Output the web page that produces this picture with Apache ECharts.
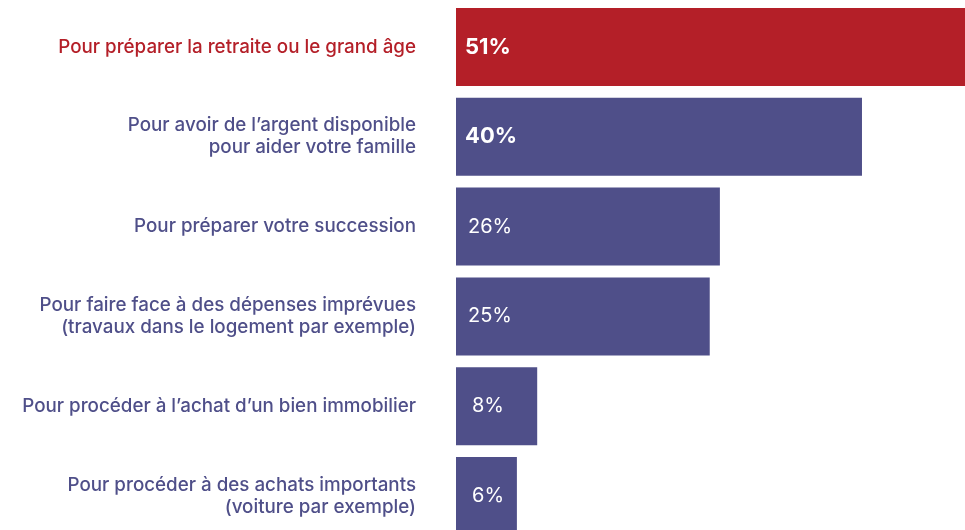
<!DOCTYPE html>
<html>
<head>
<meta charset="utf-8">
<script src="https://cdn.jsdelivr.net/npm/echarts@6/dist/echarts.min.js"></script>
<style>
  html, body { margin: 0; padding: 0; background: #fff; }
  #chart { width: 965px; height: 530px; }
</style>
</head>
<body>
<div id="chart"></div>
<script>
// categories, top to bottom
const categories = [
  "Pour préparer la retraite ou le grand âge",
  "Pour avoir de l’argent disponible\npour aider votre famille",
  "Pour préparer votre succession",
  "Pour faire face à des dépenses imprévues\n(travaux dans le logement par exemple)",
  "Pour procéder à l’achat d’un bien immobilier",
  "Pour procéder à des achats importants\n(voiture par exemple)"
];
const values = [51, 40, 26, 25, 8, 6];

const RED = "#b41f28";
const PURPLE = "#4f4f89";
const FONT = "Inter, Liberation Sans, Arial, sans-serif";

var myChart = echarts.init(document.getElementById("chart"));

// first one highlighted, first two labels bold
let data = values.map((v, i) => ({
  value: v,
  itemStyle: { color: i === 0 ? RED : PURPLE },
  label: {
    fontWeight: i < 2 ? "bold" : "normal",
    fontSize: i < 2 ? 22 : 20,
    distance: i < 2 ? 9 : (i < 4 ? 12 : 16)
  }
}));

let option = {
  animation: false,
  grid: {
    left: 456,
    width: 509,
    top: 2,
    height: 539,
    outerBoundsMode: "none"
  },
  xAxis: {
    type: "value",
    min: 0,
    max: 50.15,
    show: false
  },
  yAxis: {
    type: "category",
    inverse: true,
    data: categories,
    axisLine: { show: false },
    axisTick: { show: false },
    splitLine: { show: false },
    axisLabel: {
      margin: 40,
      fontFamily: FONT,
      fontWeight: 500,
      fontSize: 18.8,
      lineHeight: 22,
      align: "right",
      color: function (val, idx) {
        return idx === 0 ? RED : PURPLE;
      }
    }
  },
  series: [
    {
      type: "bar",
      barWidth: 78,
      data: data,
      label: {
        show: true,
        position: "insideLeft",
        color: "#ffffff",
        fontFamily: FONT,
        formatter: "{c}%"
      }
    }
  ]
};
myChart.setOption(option);
</script>
</body>
</html>
